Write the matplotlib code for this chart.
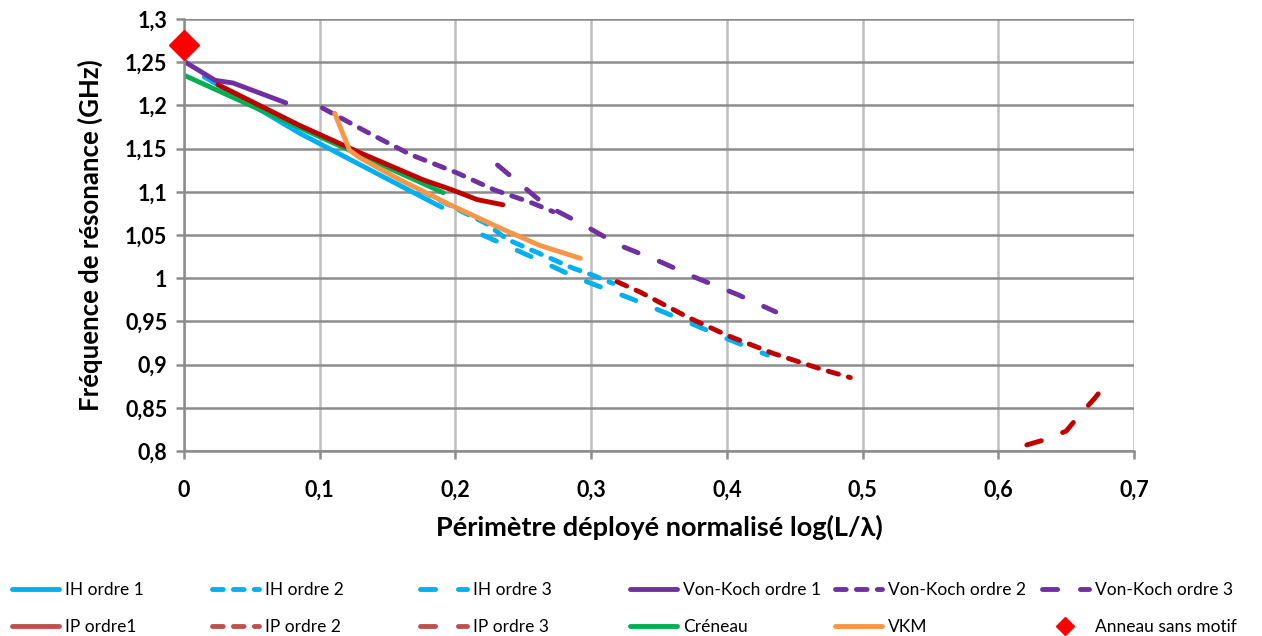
import matplotlib
matplotlib.use('Agg')
from matplotlib import pyplot as plt
from matplotlib.ticker import FuncFormatter, MultipleLocator

plt.rcParams['font.family'] = ['Lato', 'DejaVu Sans']

# IH (cyan)
ih1_x = [0.015, 0.085, 0.19]
ih1_y = [1.233, 1.168, 1.082]
ih2_x = [0.175, 0.205, 0.223, 0.238, 0.286, 0.302, 0.316]
ih2_y = [1.101, 1.077, 1.063, 1.045, 1.012, 1.003, 0.994]
ih3_x = [0.22, 0.26, 0.29, 0.33, 0.37, 0.40, 0.43]
ih3_y = [1.050, 1.022, 1.000, 0.976, 0.950, 0.930, 0.911]

# Von-Koch (purple)
vk1_x = [0.0, 0.023, 0.036, 0.075]
vk1_y = [1.251, 1.229, 1.226, 1.203]
vk2_x = [0.102, 0.135, 0.167, 0.201, 0.229, 0.255, 0.272]
vk2_y = [1.197, 1.169, 1.143, 1.122, 1.102, 1.088, 1.077]
vk3_x = [0.231, 0.266, 0.294, 0.321, 0.351, 0.378, 0.408, 0.436]
vk3_y = [1.131, 1.085, 1.062, 1.038, 1.019, 1.000, 0.981, 0.961]

# IP (red)
ip1_x = [0.025, 0.085, 0.13, 0.176, 0.198, 0.216, 0.235]
ip1_y = [1.224, 1.177, 1.145, 1.114, 1.102, 1.091, 1.085]
ip2_x = [0.319, 0.336, 0.371, 0.400, 0.434, 0.471, 0.491]
ip2_y = [0.996, 0.984, 0.955, 0.934, 0.913, 0.894, 0.885]
ip3_x = [0.621, 0.634, 0.650, 0.659, 0.671, 0.680]
ip3_y = [0.807, 0.813, 0.823, 0.840, 0.861, 0.879]

# Creneau (green) and VKM (orange)
cr_x = [0.0, 0.0855, 0.191]
cr_y = [1.235, 1.174, 1.099]
vkm_x = [0.111, 0.122, 0.130, 0.159, 0.196, 0.233, 0.262, 0.292]
vkm_y = [1.191, 1.148, 1.139, 1.114, 1.085, 1.058, 1.038, 1.023]

# ring without pattern
ring_x = [0.0]
ring_y = [1.27]

cyan = '#00B0F0'
purple = '#7030A0'
red = '#C00000'
lw = 3.5
short = (2.2, 2.1)
long_ = (3.1, 4.7)

fig = plt.figure(figsize=(12.62, 6.36), dpi=100)
ax = fig.add_axes([0.1458, 0.2909, 0.7528, 0.6792])

kw = dict(lw=lw, solid_capstyle='round', dash_capstyle='round')
l_ih1, = ax.plot(ih1_x, ih1_y, color=cyan, label='IH ordre 1', **kw)
l_ih2, = ax.plot(ih2_x, ih2_y, color=cyan, dashes=short, label='IH ordre 2', **kw)
l_ih3, = ax.plot(ih3_x, ih3_y, color=cyan, dashes=long_, label='IH ordre 3', **kw)
l_vk1, = ax.plot(vk1_x, vk1_y, color=purple, label='Von-Koch ordre 1', **kw)
l_vk2, = ax.plot(vk2_x, vk2_y, color=purple, dashes=short, label='Von-Koch ordre 2', **kw)
l_vk3, = ax.plot(vk3_x, vk3_y, color=purple, dashes=long_, label='Von-Koch ordre 3', **kw)
l_cr, = ax.plot(cr_x, cr_y, color='#00B050', label='Créneau', **kw)
l_ip1, = ax.plot(ip1_x, ip1_y, color=red, label='IP ordre1', **kw)
l_ip2, = ax.plot(ip2_x, ip2_y, color=red, dashes=short, label='IP ordre 2', **kw)
l_ip3, = ax.plot(ip3_x, ip3_y, color=red, dashes=long_, label='IP ordre 3', **kw)
l_vkm, = ax.plot(vkm_x, vkm_y, color='#F79646', label='VKM', **kw)
l_ring, = ax.plot(ring_x, ring_y, color='#FF0000', marker='D', markersize=15,
                  linestyle='none', label='Anneau sans motif', clip_on=False, zorder=5)

ax.set_xlim(0, 0.7)
ax.set_ylim(0.8, 1.3)
ax.xaxis.set_major_locator(MultipleLocator(0.1))
ax.yaxis.set_major_locator(MultipleLocator(0.05))
fmt = FuncFormatter(lambda v, p: f"{round(v, 2):g}".replace('.', ','))
ax.xaxis.set_major_formatter(fmt)
ax.yaxis.set_major_formatter(fmt)

ax.grid(axis='x', color='#BFBFBF', lw=1.8)
ax.grid(axis='y', color='#8C8C8C', lw=1.8)
ax.set_axisbelow(True)
for s in ['top', 'right']:
    ax.spines[s].set_visible(False)
for s in ['left', 'bottom']:
    ax.spines[s].set_color('#8C8C8C')
    ax.spines[s].set_linewidth(1.8)
ax.tick_params(axis='both', length=6, width=1.8, color='#8C8C8C', labelsize=15.5, pad=6)
ax.tick_params(axis='x', pad=15)
for t in ax.get_xticklabels() + ax.get_yticklabels():
    t.set_fontweight('bold')

ax.set_xlabel('Périmètre déployé normalisé log(L/λ)', fontsize=19.5, fontweight='bold', labelpad=10)
ax.set_ylabel('Fréquence de résonance (GHz)', fontsize=18.5, fontweight='bold', labelpad=16)

# legend: six evenly spaced columns, two rows each
columns = [(l_ih1, l_ip1), (l_ih2, l_ip2), (l_ih3, l_ip3),
           (l_vk1, l_cr), (l_vk2, l_vkm), (l_vk3, l_ring)]
col_px = [12, 212, 420, 630, 835, 1042]
for px, pair in zip(col_px, columns):
    leg = fig.legend(handles=list(pair), loc='center left',
                     bbox_to_anchor=(px / 1262, 1 - 608.5 / 636),
                     frameon=False, fontsize=12.5, handlelength=2.7,
                     labelspacing=1.2, handletextpad=0.35,
                     borderpad=0, borderaxespad=0)
    for h in leg.legend_handles:
        if h.get_label().startswith('IP'):
            h.set_color('#C0504D')
        if h.get_label().startswith('Anneau'):
            h.set_markersize(9)

fig.savefig('out.png', dpi=100)
